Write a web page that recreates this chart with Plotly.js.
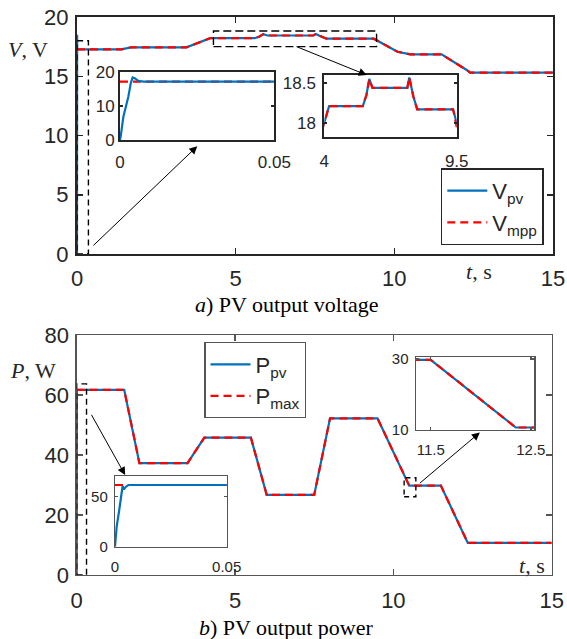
<!DOCTYPE html>
<html>
<head>
<meta charset="utf-8">
<script src="https://cdn.plot.ly/plotly-3.0.1.min.js"></script>
<style>
  html, body { margin: 0; padding: 0; background: #fff; }
  #chart { width: 567px; height: 639px; }
</style>
</head>
<body>
<div id="chart"></div>
<script>
// ---- Voltage: maximum power point voltage and PV voltage (V) ----
const tMpp = [0, 1.4, 1.7, 3.45, 4.2, 5.6, 5.75, 5.87, 6.0, 7.45, 7.53, 7.7, 7.86, 9.35, 10.1, 10.5, 11.49, 12.28, 12.39, 15];
const vMpp = [17.27, 17.27, 17.44, 17.44, 18.21, 18.21, 18.35, 18.55, 18.44, 18.44, 18.57, 18.33, 18.17, 18.17, 17.07, 16.85, 16.85, 15.53, 15.3, 15.3];
// start-up transient of the PV voltage
const tPvStart = [0, 0.0003, 0.0011, 0.0019, 0.0027, 0.0035, 0.0041, 0.0049, 0.0059, 0.0076];
const vPvStart = [0, 1.5, 6.9, 9.9, 12.8, 16.8, 18.5, 18.2, 17.5, 17.27];

// ---- Power: maximum available power and PV power (W) ----
const tMax = [0, 1.5, 1.98, 3.5, 4.03, 5.5, 6.0, 7.5, 8.0, 9.5, 10.5, 11.5, 12.35, 15];
const pMax = [61.7, 61.7, 37.3, 37.3, 45.8, 45.8, 26.7, 26.7, 52.2, 52.2, 29.8, 29.8, 10.7, 10.7];
const tPpvStart = [0, 0.00075, 0.0019, 0.003, 0.0034, 0.004, 0.0049, 0.006];
const pPpvStart = [0, 20, 36.7, 56.7, 60.7, 57.3, 60, 61.7];

// tick values
const mainXTicks = [0, 5, 10, 15];
const vTicks = [0, 5, 10, 15, 20];
const pTicks = [0, 20, 40, 60, 80];
const startTicks = [0, 0.05];
const startTickText = ['0', '0.05'];
const vStartYTicks = [0, 10, 20];
const vZoomXTicks = [4, 9.5];
const vZoomYTicks = [18, 18.5];
const pStartYTicks = [0, 50];
const pZoomXTicks = [11.5, 12.5];
const pZoomYTicks = [10, 30];

// PV curves continue along the MPP curves after the start-up transient
function joinAfter(t0, y0, t1, y1) {
  const tEnd = t0[t0.length - 1];
  const t = t0.slice(), y = y0.slice();
  t1.forEach((v, i) => { if (v > tEnd) { t.push(v); y.push(y1[i]); } });
  return { t, y };
}
const vPv = joinAfter(tPvStart, vPvStart, tMpp, vMpp);
const pPv = joinAfter(tPpvStart, pPpvStart, tMax, pMax);

const BLUE = '#0072BD', RED = '#FF0000', INK = '#262626';
const SANS = 'Liberation Sans, Arial, sans-serif';
const SERIF = 'Liberation Serif, Times New Roman, serif';

function pvTrace(x, y, xa, ya, name, legend, show) {
  return { x, y, xaxis: xa, yaxis: ya, type: 'scatter', mode: 'lines', name,
    legend, showlegend: show, line: { color: BLUE, width: 2.2 }, hoverinfo: 'skip' };
}
function refTrace(x, y, xa, ya, name, legend, show) {
  return { x, y, xaxis: xa, yaxis: ya, type: 'scatter', mode: 'lines', name,
    legend, showlegend: show, line: { color: RED, width: 2.2, dash: '8px,5px' }, hoverinfo: 'skip' };
}

const traces = [
  // voltage, main
  pvTrace(vPv.t, vPv.y, 'x', 'y', 'V<sub>pv</sub>', 'legend', true),
  refTrace(tMpp, vMpp, 'x', 'y', 'V<sub>mpp</sub>', 'legend', true),
  // power, main
  pvTrace(pPv.t, pPv.y, 'x2', 'y2', 'P<sub>pv</sub>', 'legend2', true),
  refTrace(tMax, pMax, 'x2', 'y2', 'P<sub>max</sub>', 'legend2', true),
  // voltage start-up detail
  refTrace(tMpp, vMpp, 'x3', 'y3', '', 'legend', false),
  pvTrace(vPv.t, vPv.y, 'x3', 'y3', '', 'legend', false),
  // voltage 4..9.5 s detail
  pvTrace(vPv.t, vPv.y, 'x4', 'y4', '', 'legend', false),
  refTrace(tMpp, vMpp, 'x4', 'y4', '', 'legend', false),
  // power start-up detail
  refTrace(tMax, pMax, 'x5', 'y5', '', 'legend', false),
  pvTrace(pPv.t, pPv.y, 'x5', 'y5', '', 'legend', false),
  // power 11.5..12.5 s detail
  pvTrace(pPv.t, pPv.y, 'x6', 'y6', '', 'legend', false),
  refTrace(tMax, pMax, 'x6', 'y6', '', 'legend', false)
];

function axis(domain, range, ticks, opts) {
  return Object.assign({
    domain, range, tickmode: 'array', tickvals: ticks,
    showgrid: false, zeroline: false, showline: true, mirror: 'ticks',
    linecolor: INK, linewidth: 2, ticks: 'inside', ticklen: 6, tickwidth: 1.5,
    tickcolor: INK, tickfont: { family: SANS, size: 22, color: INK },
    fixedrange: true
  }, opts || {});
}

const W = 567, H = 639;
const px = v => v / W;
const py = v => 1 - v / H;

const grayFrame = { linecolor: '#555', tickcolor: '#555', linewidth: 1.4 };
const f17 = { family: SANS, size: 17, color: INK };
const f15 = { family: SANS, size: 15, color: INK };

function label(x, y, text, color) {
  return { xref: 'paper', yref: 'paper', x: px(x), y: py(y), xanchor: 'center', yanchor: 'middle',
    text, showarrow: false, font: { family: SERIF, size: 22, color: color || INK } };
}
function pointer(xr, yr, x, y, ax, ay) {
  return { xref: xr, yref: yr, axref: xr, ayref: yr, x, y, ax, ay, text: '',
    showarrow: true, arrowhead: 2, arrowsize: 1.6, arrowwidth: 1, arrowcolor: '#000' };
}

const layout = {
  width: W, height: H, autosize: false,
  margin: { l: 0, r: 0, t: 0, b: 0 },
  paper_bgcolor: '#fff', plot_bgcolor: '#fff',
  font: { family: SANS, color: INK },
  xaxis: axis([px(77), px(553)], [0, 15], mainXTicks, { anchor: 'y', ticklabelstandoff: 4 }),
  yaxis: axis([py(254), py(17)], [0, 20], vTicks, { anchor: 'x', ticklabelstandoff: 2 }),
  xaxis2: axis([px(76.7), px(551.7)], [0, 15], mainXTicks, Object.assign({ anchor: 'y2', ticklabelstandoff: 5 }, grayFrame)),
  yaxis2: axis([py(575), py(335)], [0, 80], pTicks, Object.assign({ anchor: 'x2', ticklabelstandoff: 2 }, grayFrame)),
  xaxis3: axis([px(120), px(274.3)], [0, 0.05], startTicks, { anchor: 'y3', ticktext: startTickText, ticklen: 3, tickfont: f17, ticklabelstandoff: 6 }),
  yaxis3: axis([py(140), py(72.3)], [0, 20], vStartYTicks, { anchor: 'x3', ticklen: 3, tickfont: f17, ticklabelstandoff: 0 }),
  xaxis4: axis([px(324.3), px(456.7)], [4, 9.5], vZoomXTicks, { anchor: 'y4', ticklen: 3, tickfont: f17, ticklabelstandoff: 7 }),
  yaxis4: axis([py(137.3), py(75)], [17.82, 18.6], vZoomYTicks, { anchor: 'x4', ticklen: 3, tickfont: f17, ticklabelstandoff: 3 }),
  xaxis5: axis([px(115), px(226.7)], [0, 0.05], startTicks, Object.assign({ anchor: 'y5', ticktext: startTickText, ticklen: 3, tickfont: f15, ticklabelstandoff: 6 }, grayFrame, { linewidth: 1.2 })),
  yaxis5: axis([py(546.7), py(475.7)], [0, 71], pStartYTicks, Object.assign({ anchor: 'x5', ticklen: 3, tickfont: f15, ticklabelstandoff: 3 }, grayFrame, { linewidth: 1.2 })),
  xaxis6: axis([px(415.7), px(534.3)], [11.35, 12.535], pZoomXTicks, Object.assign({ anchor: 'y6', ticklen: 3, tickfont: f15, ticklabelstandoff: 6 }, grayFrame, { linewidth: 1.2 })),
  yaxis6: axis([py(430), py(357.3)], [10, 30.5], pZoomYTicks, Object.assign({ anchor: 'x6', ticklen: 3, tickfont: f15, ticklabelstandoff: 3 }, grayFrame, { linewidth: 1.2 })),
  legend: {
    x: px(440.7), y: py(168.3), xanchor: 'left', yanchor: 'top', itemwidth: 40,
    bgcolor: '#fff', bordercolor: INK, borderwidth: 1.6,
    font: { family: SANS, size: 22, color: INK }
  },
  legend2: {
    x: px(204.3), y: py(342.3), xanchor: 'left', yanchor: 'top', itemwidth: 40,
    bgcolor: '#fff', bordercolor: '#555', borderwidth: 1.2,
    font: { family: SANS, size: 22, color: INK }
  },
  shapes: [
    // zoom windows
    { type: 'rect', xref: 'x', yref: 'y', x0: 0, x1: 0.36, y0: 0, y1: 18.0,
      line: { color: '#000', width: 1.4, dash: '6px,4px' }, layer: 'above' },
    { type: 'rect', xref: 'x', yref: 'y', x0: 4.3, x1: 9.44, y0: 17.5, y1: 18.82,
      line: { color: '#000', width: 1.4, dash: '8px,4px' }, layer: 'above' },
    { type: 'rect', xref: 'x2', yref: 'y2', x0: 0, x1: 0.31, y0: 0, y1: 63.7,
      line: { color: '#000', width: 1.4, dash: '6px,4px' }, layer: 'above' },
    { type: 'rect', xref: 'x2', yref: 'y2', x0: 10.34, x1: 10.71, y0: 26.1, y1: 32.4,
      line: { color: '#000', width: 1.4, dash: '5px,4px' }, layer: 'above' }
  ],
  annotations: [
    // pointers from zoom windows to detail views
    pointer('x', 'y', 3.79, 9.1, 0.47, 0.6),
    pointer('x', 'y', 9.13, 15.1, 6.87, 17.55),
    pointer('x2', 'y2', 1.53, 33.3, 0.44, 53.9),
    pointer('x2', 'y2', 12.73, 47.5, 10.79, 30.2),
    // axis labels
    label(28, 49, '<i>V</i>, V'),
    label(479, 272, '<i>t</i>, s'),
    label(32.5, 370, '<i>P</i>, W'),
    label(532, 565, '<i>t</i>, s'),
    // captions
    label(286.7, 304, '<i>a</i>) PV output voltage', '#000'),
    label(286, 627, '<i>b</i>) PV output power', '#000')
  ]
};

Plotly.newPlot('chart', traces, layout, { staticPlot: true, displayModeBar: false });
</script>
</body>
</html>
